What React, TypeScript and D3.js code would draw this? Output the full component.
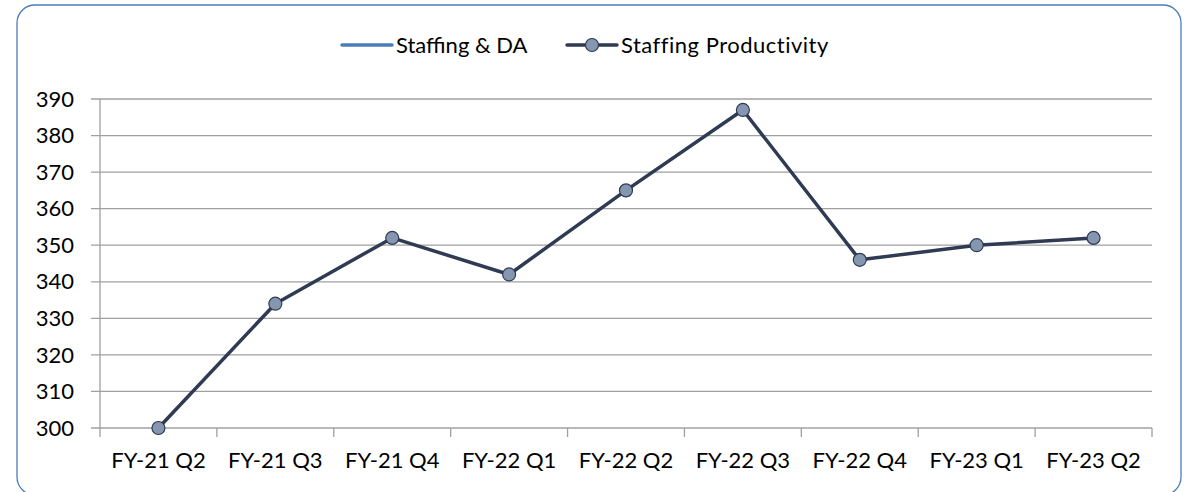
import { useEffect, useRef } from "react";
import * as d3 from "d3";

const quarters = [
  "FY-21 Q2",
  "FY-21 Q3",
  "FY-21 Q4",
  "FY-22 Q1",
  "FY-22 Q2",
  "FY-22 Q3",
  "FY-22 Q4",
  "FY-23 Q1",
  "FY-23 Q2",
];
const productivity = [300, 334, 352, 342, 365, 387, 346, 350, 352];
const yTicks = [300, 310, 320, 330, 340, 350, 360, 370, 380, 390];
const seriesNames = ["Staffing & DA", "Staffing Productivity"];

const W = 1191;
const H = 492;
const FONT = "Lato, 'Open Sans', sans-serif";
const FS = 22;

export default function App() {
  const svgRef = useRef<SVGSVGElement>(null);

  useEffect(() => {
    if (!svgRef.current) return;
    const svg = d3.select(svgRef.current);
    svg.selectAll("*").remove();

    // chart frame
    svg
      .append("rect")
      .attr("x", 17)
      .attr("y", 5)
      .attr("width", 1164)
      .attr("height", 490)
      .attr("rx", 18)
      .attr("fill", "white")
      .attr("stroke", "#4a7ebb")
      .attr("stroke-width", 1.3);

    const left = 100;
    const right = 1152;
    const top = 99;
    const bottom = 428;

    const x = d3.scaleBand().domain(quarters).range([left, right]);
    const y = d3.scaleLinear().domain([300, 390]).range([bottom, top]);

    // gridlines + y ticks
    const g = svg.append("g");
    g.selectAll("line.grid")
      .data(yTicks)
      .enter()
      .append("line")
      .attr("x1", left - 9)
      .attr("x2", right)
      .attr("y1", (d) => y(d))
      .attr("y2", (d) => y(d))
      .attr("stroke", "#a0a0a0")
      .attr("stroke-width", 1.3);

    g.selectAll("text.ylab")
      .data(yTicks)
      .enter()
      .append("text")
      .attr("x", 74)
      .attr("y", (d) => y(d))
      .attr("dy", "0.35em")
      .attr("text-anchor", "end")
      .attr("font-family", FONT)
      .attr("font-size", FS)
      .attr("fill", "#000")
      .text((d) => d);

    // y axis line
    g.append("line")
      .attr("x1", left)
      .attr("x2", left)
      .attr("y1", top)
      .attr("y2", bottom)
      .attr("stroke", "#a0a0a0")
      .attr("stroke-width", 1.3);

    // x ticks at category boundaries
    const bounds = quarters.map((q) => x(q)!).concat([right]);
    g.selectAll("line.xtick")
      .data(bounds)
      .enter()
      .append("line")
      .attr("x1", (d) => d)
      .attr("x2", (d) => d)
      .attr("y1", bottom)
      .attr("y2", bottom + 9)
      .attr("stroke", "#a0a0a0")
      .attr("stroke-width", 1.3);

    g.selectAll("text.xlab")
      .data(quarters)
      .enter()
      .append("text")
      .attr("x", (d) => x(d)! + x.bandwidth() / 2)
      .attr("y", 468)
      .attr("text-anchor", "middle")
      .attr("font-family", FONT)
      .attr("font-size", FS)
      .attr("fill", "#000")
      .text((d) => d);

    // series line
    const line = d3
      .line<number>()
      .x((_, i) => x(quarters[i])! + x.bandwidth() / 2)
      .y((d) => y(d));

    svg
      .append("path")
      .datum(productivity)
      .attr("d", line)
      .attr("fill", "none")
      .attr("stroke", "#2f3b52")
      .attr("stroke-width", 3.5)
      .attr("stroke-linejoin", "round");

    svg
      .selectAll("circle.pt")
      .data(productivity)
      .enter()
      .append("circle")
      .attr("cx", (_, i) => x(quarters[i])! + x.bandwidth() / 2)
      .attr("cy", (d) => y(d))
      .attr("r", 6.5)
      .attr("fill", "#8496b0")
      .attr("stroke", "#2f3b52")
      .attr("stroke-width", 1.2);

    // legend
    const leg = svg.append("g").attr("font-family", FONT).attr("font-size", FS);
    leg
      .append("line")
      .attr("x1", 342)
      .attr("x2", 392)
      .attr("y1", 45)
      .attr("y2", 45)
      .attr("stroke", "#4a7ebb")
      .attr("stroke-width", 3.5)
      .attr("stroke-linecap", "round");
    leg
      .append("text")
      .attr("x", 396)
      .attr("y", 45)
      .attr("dy", "0.35em")
      .text(seriesNames[0]);
    leg
      .append("line")
      .attr("x1", 567)
      .attr("x2", 617)
      .attr("y1", 45)
      .attr("y2", 45)
      .attr("stroke", "#2f3b52")
      .attr("stroke-width", 3.5)
      .attr("stroke-linecap", "round");
    leg
      .append("circle")
      .attr("cx", 592)
      .attr("cy", 45)
      .attr("r", 6.5)
      .attr("fill", "#8496b0")
      .attr("stroke", "#2f3b52")
      .attr("stroke-width", 1.2);
    leg
      .append("text")
      .attr("x", 621)
      .attr("y", 45)
      .attr("dy", "0.35em")
      .attr("letter-spacing", 0.5)
      .text(seriesNames[1]);
  }, []);

  return (
    <svg
      ref={svgRef}
      width={W}
      height={H}
      style={{ position: "absolute", left: 0, top: 0, background: "white" }}
    />
  );
}
